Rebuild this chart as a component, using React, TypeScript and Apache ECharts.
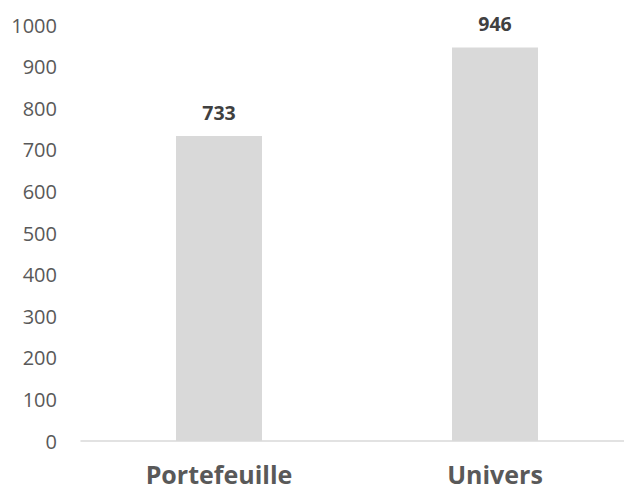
import React, { useEffect, useRef } from "react";
import * as echarts from "echarts";

const categories = ["Portefeuille", "Univers"];
const values = [733, 946];

export default function App() {
  const ref = useRef<HTMLDivElement>(null);
  useEffect(() => {
    document.body.style.margin = "0";
    const chart = echarts.init(ref.current!, null, { renderer: "svg" });
    chart.setOption({
      animation: false,
      textStyle: { fontFamily: "Open Sans" },
      grid: { left: 81, right: 7, top: 25, bottom: 50, containLabel: false },
      xAxis: {
        type: "category",
        data: categories,
        axisLine: { lineStyle: { color: "#d9d9d9", width: 1.5 } },
        axisTick: { show: false },
        axisLabel: {
          color: "#595959",
          fontSize: 25,
          lineHeight: 22,
          fontWeight: "bold",
          margin: 22,
          fontFamily: "Open Sans",
        },
      },
      yAxis: {
        type: "value",
        min: 0,
        max: 1000,
        interval: 100,
        splitLine: { show: false },
        axisLine: { show: false },
        axisTick: { show: false },
        axisLabel: {
          color: "#595959",
          fontSize: 20,
          margin: 24,
          fontFamily: "Open Sans",
          formatter: (v: number) => String(v),
        },
      },
      series: [
        {
          type: "bar",
          data: values,
          barWidth: 86,
          itemStyle: { color: "#d9d9d9" },
          label: {
            show: true,
            position: "top",
            distance: 14,
            color: "#404040",
            fontSize: 19.5,
            fontWeight: "bold",
            fontFamily: "Open Sans",
          },
        },
      ],
    });
    return () => chart.dispose();
  }, []);
  return (
    <div style={{ width: 624, height: 491, overflow: "hidden", position: "relative" }}>
      <div ref={ref} style={{ width: 640, height: 491 }} />
    </div>
  );
}
